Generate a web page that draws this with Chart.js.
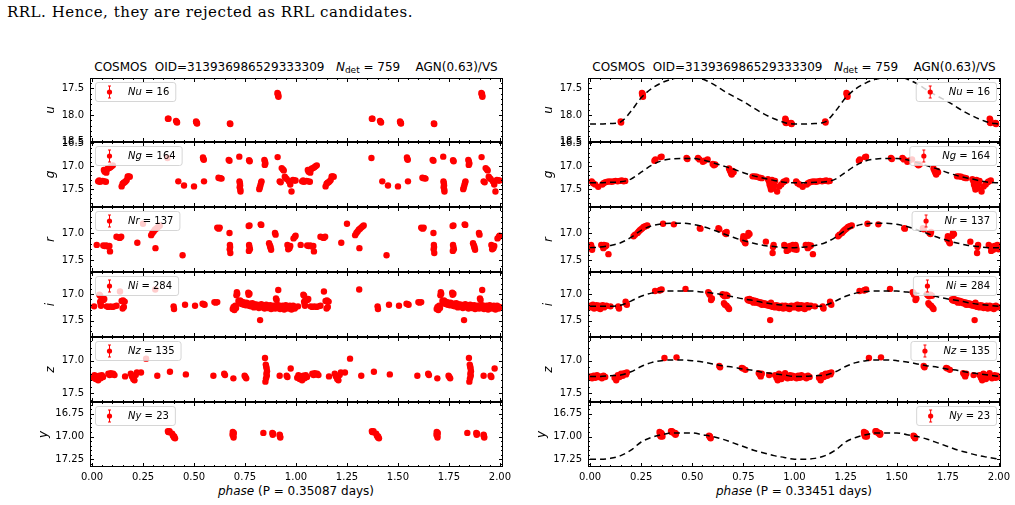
<!DOCTYPE html>
<html>
<head>
<meta charset="utf-8">
<script src="https://cdn.jsdelivr.net/npm/chart.js@4.4.0/dist/chart.umd.min.js"></script>
<style>
  body { margin: 0; background: #fff; width: 1015px; height: 505px; position: relative; overflow: hidden; font-family: "DejaVu Sans"; }
  canvas { position: absolute; }
  .txt { position: absolute; white-space: pre; color: #000; }
  .ttl { font-size: 12px; line-height: 14px; text-align: center; width: 500px; }
  #para { left: 7px; top: 2px; font-family: "DejaVu Serif"; font-size: 15px; line-height: 20px; }
</style>
</head>
<body>
<div class="txt" id="para">RRL. Hence, they are rejected as RRL candidates.</div>
<div class="txt ttl" style="left:46px;top:60px">COSMOS  OID=313936986529333309   <i>N</i><sub style="font-size:9px;vertical-align:-2px">det</sub> = 759    AGN(0.63)/VS</div>
<div class="txt ttl" style="left:544px;top:60px">COSMOS  OID=313936986529333309   <i>N</i><sub style="font-size:9px;vertical-align:-2px">det</sub> = 759    AGN(0.63)/VS</div>
<div class="txt ttl" style="left:46px;top:484px"><i>phase</i> (P = 0.35087 days)</div>
<div class="txt ttl" style="left:544px;top:484px"><i>phase</i> (P = 0.33451 days)</div>
<script>
const bands = ['u', 'g', 'r', 'i', 'z', 'y'];
const counts = [16, 164, 137, 284, 135, 23];
const magMin = [17.31, 16.47, 16.52, 16.58, 16.64, 16.62];
const magMax = [18.505, 17.89, 17.72, 17.81, 17.63, 17.335];
const yTicks = [[17.5, 18.0, 18.5], [16.5, 17.0, 17.5], [17.0, 17.5], [17.0, 17.5], [17.0, 17.5], [16.75, 17.0, 17.25]];
const xTicks = [0, 0.25, 0.5, 0.75, 1.0, 1.25, 1.5, 1.75, 2.0];

// template fit (right column), one cycle, repeated for phase 1-2
const fitPhase = [0, 0.05, 0.10, 0.15, 0.20, 0.25, 0.30, 0.35, 0.40, 0.45, 0.50, 0.55, 0.60, 0.65, 0.70, 0.75, 0.80, 0.85, 0.90, 0.95, 1.00];
const uFit = [18.17, 18.17, 18.16, 18.13, 17.93, 17.68, 17.51, 17.40, 17.33, 17.29, 17.28, 17.33, 17.42, 17.54, 17.65, 17.75, 17.87, 17.98, 18.07, 18.14, 18.17];
const gFit = [17.36, 17.36, 17.35, 17.34, 17.28, 17.13, 16.98, 16.88, 16.84, 16.83, 16.83, 16.86, 16.92, 16.99, 17.06, 17.14, 17.21, 17.26, 17.31, 17.35, 17.36];
const rFit = [17.27, 17.26, 17.23, 17.18, 17.08, 16.95, 16.87, 16.83, 16.82, 16.82, 16.84, 16.88, 16.94, 17.01, 17.08, 17.14, 17.19, 17.23, 17.25, 17.27, 17.27];
const iFit = [17.23, 17.23, 17.23, 17.21, 17.13, 17.04, 16.98, 16.95, 16.94, 16.94, 16.94, 16.96, 16.98, 17.01, 17.05, 17.09, 17.12, 17.16, 17.19, 17.21, 17.23];
const zFit = [17.24, 17.24, 17.23, 17.22, 17.17, 17.09, 17.03, 17.00, 16.99, 16.99, 17.00, 17.02, 17.05, 17.08, 17.10, 17.13, 17.15, 17.18, 17.20, 17.22, 17.24];
const yFit = [17.25, 17.25, 17.24, 17.21, 17.15, 17.06, 17.01, 16.98, 16.96, 16.96, 16.96, 16.98, 17.00, 17.03, 17.07, 17.11, 17.15, 17.18, 17.21, 17.23, 17.25];

// [phase, mag] for P = 0.35087 d
const uLeft = [[0.372,18.07],[0.375,18.07],[0.412,18.11],[0.415,18.13],[0.417,18.14],[0.510,18.12],[0.512,18.14],[0.514,18.15],[0.515,18.16],[0.676,18.16],[0.678,18.17],[0.909,17.59],[0.911,17.62],[0.913,17.64],[0.914,17.66],[0.912,17.61]];
const gLeft = [[0.030,17.33],[0.038,17.34],[0.045,17.33],[0.052,17.32],[0.060,17.33],[0.068,17.34],[0.035,17.31],
  [0.058,17.08],[0.062,17.12],[0.066,17.10],[0.072,17.07],[0.078,17.05],[0.084,17.04],[0.090,17.02],[0.096,17.00],[0.102,16.98],[0.070,17.14],
  [0.145,17.44],[0.150,17.38],[0.155,17.36],[0.160,17.35],[0.165,17.33],[0.170,17.30],[0.175,17.22],[0.180,17.22],[0.185,17.23],
  [0.370,16.82],[0.423,17.33],[0.451,17.42],[0.500,17.44],[0.544,16.81],[0.546,16.84],[0.548,16.86],[0.549,17.33],
  [0.620,17.25],[0.625,17.26],[0.630,17.26],[0.635,17.27],[0.670,16.86],[0.674,16.88],[0.722,16.79],
  [0.723,17.33],[0.725,17.37],[0.726,17.42],[0.724,17.46],[0.727,17.51],[0.728,17.55],[0.770,16.87],[0.773,16.89],
  [0.820,17.50],[0.823,17.46],[0.826,17.41],[0.829,17.36],[0.831,17.33],[0.845,16.86],[0.848,16.90],[0.850,16.94],[0.847,16.97],
  [0.910,16.80],[0.930,17.04],[0.936,17.07],[0.940,17.09],[0.920,17.33],[0.925,17.35],[0.945,17.23],[0.950,17.26],[0.955,17.28],
  [0.965,17.33],[0.972,17.40],[0.978,17.55],[0.985,17.30],[0.992,17.31],[0.998,17.31]];
const rLeft = [[0.023,17.22],[0.055,17.23],[0.062,17.24],[0.070,17.23],[0.078,17.25],[0.085,17.24],[0.088,17.34],
  [0.120,17.07],[0.128,17.08],[0.136,17.09],[0.143,17.07],[0.222,17.18],[0.250,16.83],
  [0.290,17.04],[0.296,17.00],[0.302,16.97],[0.308,16.94],[0.314,16.92],[0.320,16.90],[0.326,16.88],[0.332,16.86],[0.311,17.28],
  [0.444,17.41],[0.614,16.90],[0.618,16.91],[0.622,16.92],[0.626,16.90],
  [0.674,17.00],[0.676,17.22],[0.677,17.26],[0.675,17.30],[0.678,17.37],[0.768,16.87],[0.772,16.86],
  [0.770,17.22],[0.772,17.26],[0.774,17.30],[0.769,17.33],[0.827,16.84],[0.830,16.85],
  [0.868,17.19],[0.872,17.23],[0.875,17.27],[0.878,17.31],[0.874,17.25],[0.897,17.00],[0.900,17.03],
  [0.958,17.22],[0.964,17.25],[0.968,17.28],[0.962,17.30],[0.972,17.24],[0.988,17.10],[0.995,17.07],[0.998,17.05]];
const iLeft = [[0.010,17.23],[0.036,17.01],[0.040,17.03],[0.040,17.14],[0.042,17.18],[0.044,17.22],[0.046,17.12],[0.056,17.11],[0.060,17.09],
  [0.072,17.23],[0.080,17.24],[0.090,17.23],[0.100,17.24],[0.110,17.23],[0.120,17.22],[0.137,16.95],
  [0.145,17.13],[0.152,17.12],[0.160,17.14],[0.150,17.27],[0.156,17.24],[0.310,16.91],[0.400,17.23],[0.402,17.28],
  [0.456,17.20],[0.505,17.22],[0.542,17.18],[0.548,17.19],[0.552,17.20],[0.600,17.15],[0.606,17.16],[0.614,17.15],
  [0.690,17.28],[0.694,17.24],[0.698,17.30],[0.702,17.22],[0.706,17.26],[0.710,16.96],[0.712,16.99],[0.708,17.02],
  [0.718,17.13],[0.722,17.16],[0.726,17.12],[0.730,17.18],[0.734,17.14],[0.738,17.19],[0.742,17.15],[0.746,17.20],[0.750,17.17],
  [0.754,17.21],[0.758,17.16],[0.762,17.19],[0.766,16.97],[0.768,17.01],[0.772,16.99],[0.770,17.22],[0.774,17.18],[0.778,17.23],
  [0.782,17.20],[0.786,17.17],[0.790,17.22],[0.794,17.25],[0.798,17.19],[0.802,17.21],[0.806,17.24],[0.810,17.20],[0.814,17.23],
  [0.818,17.26],[0.822,17.21],[0.824,17.49],[0.826,17.24],[0.830,17.19],[0.834,17.22],[0.838,17.25],[0.842,17.21],[0.846,17.27],
  [0.850,17.23],[0.854,17.20],[0.858,17.24],[0.862,17.26],[0.866,17.22],[0.870,17.25],[0.874,17.21],[0.878,17.28],[0.882,17.23],
  [0.886,17.26],[0.890,17.22],[0.894,17.24],[0.898,17.27],[0.902,17.08],[0.905,17.11],[0.906,17.23],[0.910,17.26],[0.913,16.92],
  [0.914,17.21],[0.918,17.25],[0.922,17.28],[0.926,17.23],[0.930,17.26],[0.934,17.22],[0.938,17.25],[0.942,17.29],[0.946,17.24],
  [0.950,17.21],[0.954,17.26],[0.958,17.23],[0.962,17.27],[0.966,17.24],[0.970,17.22],[0.974,17.26],[0.978,17.29],[0.982,17.24],
  [0.986,17.22],[0.990,17.25],[0.994,17.27],[0.998,17.24]];
const zLeft = [[0.006,17.26],[0.012,17.22],[0.018,17.28],[0.024,17.24],[0.030,17.30],[0.036,17.23],[0.042,17.27],[0.048,17.22],[0.054,17.25],
  [0.080,17.20],[0.086,17.22],[0.092,17.19],[0.098,17.21],[0.104,17.20],[0.110,17.22],[0.162,17.24],
  [0.190,17.20],[0.196,17.24],[0.202,17.28],[0.208,17.30],[0.214,17.22],[0.220,17.18],[0.205,17.26],[0.240,17.18],[0.265,16.97],
  [0.320,17.23],[0.382,17.17],[0.460,17.21],[0.595,17.23],[0.648,17.20],[0.652,17.22],[0.693,17.27],
  [0.748,17.23],[0.752,17.25],[0.756,17.27],[0.848,16.96],[0.852,17.06],[0.854,17.09],[0.856,17.12],[0.858,17.16],
  [0.855,17.20],[0.857,17.23],[0.853,17.27],[0.850,17.32],[0.920,17.23],[0.954,17.23],[0.958,17.25],[0.974,17.12]];
const yLeft = [[0.372,16.94],[0.376,16.95],[0.380,16.94],[0.393,16.97],[0.397,16.99],[0.403,17.00],[0.407,17.02],[0.690,16.95],
  [0.692,16.97],[0.693,16.99],[0.694,17.01],[0.695,16.96],[0.840,16.96],[0.884,16.96],[0.886,16.98],[0.888,16.97],
  [0.920,16.98],[0.922,17.00],[0.923,17.01],[0.921,16.99],[0.402,17.01],[0.374,16.95],[0.689,16.98]];

// [phase, mag] for P = 0.33451 d
const uRight = [[0.150,18.12],[0.152,18.14],[0.254,17.59],[0.256,17.62],[0.258,17.64],[0.259,17.66],[0.257,17.61],[0.955,18.07],
  [0.957,18.09],[0.958,18.12],[0.956,18.14],[0.959,18.15],[0.983,18.15],[0.985,18.16],[0.986,18.17],[0.984,18.16]];
const gRight = [[0.008,17.33],[0.015,17.37],[0.025,17.40],[0.040,17.45],[0.060,17.40],[0.066,17.37],[0.075,17.35],[0.085,17.34],
  [0.095,17.33],[0.105,17.34],[0.115,17.33],[0.125,17.32],[0.135,17.33],[0.145,17.32],[0.155,17.31],[0.165,17.33],[0.172,17.32],
  [0.315,16.88],[0.320,16.85],[0.345,16.80],[0.350,16.79],[0.472,16.82],[0.476,16.84],[0.528,16.82],[0.535,16.85],[0.552,16.90],
  [0.560,16.88],[0.575,16.85],[0.600,16.95],[0.606,16.98],[0.612,16.96],[0.680,17.05],[0.684,17.09],[0.688,17.12],[0.690,17.15],
  [0.693,17.18],[0.698,17.10],[0.702,17.13],[0.795,17.22],[0.805,17.22],[0.815,17.23],[0.830,17.25],[0.840,17.26],
  [0.870,17.28],[0.875,17.33],[0.878,17.40],[0.882,17.45],[0.885,17.51],[0.888,17.36],[0.890,17.30],[0.893,17.42],[0.897,17.48],
  [0.900,17.38],[0.905,17.32],[0.915,17.55],[0.925,17.44],[0.935,17.40],[0.945,17.35],[0.950,17.33],[0.960,17.31]];
const rRight = [[0.005,17.22],[0.008,17.27],[0.010,17.31],[0.006,17.25],[0.055,17.22],[0.062,17.24],[0.068,17.22],[0.074,17.25],
  [0.080,17.23],[0.065,17.28],[0.090,17.39],[0.213,17.06],[0.220,17.03],[0.232,17.00],[0.238,16.97],[0.244,16.95],[0.250,16.93],
  [0.256,16.91],[0.262,16.89],[0.268,16.88],[0.275,16.87],[0.280,16.86],[0.357,16.83],[0.410,16.84],[0.537,16.91],[0.540,16.92],
  [0.628,16.91],[0.632,16.93],[0.660,17.00],[0.665,17.02],[0.668,16.98],[0.750,17.06],[0.752,17.10],[0.755,17.14],[0.757,17.17],
  [0.760,17.19],[0.748,17.12],[0.775,17.00],[0.780,17.02],[0.772,17.05],[0.860,17.16],[0.898,17.22],[0.893,17.37],[0.895,17.26],
  [0.950,17.22],[0.958,17.25],[0.965,17.28],[0.972,17.31],[0.978,17.24],[0.985,17.27],[0.992,17.22],[0.998,17.30],[0.962,17.33],[0.975,17.27]];
const iRight = [[0.002,17.22],[0.008,17.25],[0.014,17.20],[0.020,17.27],[0.026,17.23],[0.032,17.21],[0.038,17.26],[0.044,17.22],
  [0.050,17.28],[0.056,17.24],[0.062,17.21],[0.068,17.25],[0.074,17.23],[0.080,17.22],[0.100,17.23],[0.138,17.23],[0.142,17.27],
  [0.140,17.25],[0.174,17.14],[0.177,17.18],[0.180,17.20],[0.318,16.94],[0.340,16.93],[0.344,16.92],[0.350,16.91],[0.467,16.90],
  [0.578,16.96],[0.582,16.98],[0.585,17.01],[0.592,17.11],[0.596,17.08],[0.648,17.00],[0.652,17.02],[0.658,17.04],[0.665,17.01],
  [0.672,17.03],[0.655,17.17],[0.660,17.20],[0.668,17.22],[0.675,17.25],[0.680,17.28],
  [0.770,17.10],[0.775,17.12],[0.780,17.09],[0.785,17.13],[0.790,17.11],[0.795,17.14],[0.800,17.12],[0.805,17.15],[0.810,17.13],
  [0.815,17.16],[0.820,17.14],[0.825,17.17],[0.830,17.15],[0.835,17.18],[0.840,17.16],[0.845,17.19],[0.850,17.17],[0.855,17.20],
  [0.860,17.18],[0.865,17.21],[0.870,17.19],[0.875,17.22],[0.880,17.20],[0.881,17.49],[0.885,17.23],[0.890,17.21],[0.895,17.24],
  [0.900,17.22],[0.905,17.25],[0.910,17.21],[0.915,17.24],[0.920,17.22],[0.925,17.26],[0.930,17.23],[0.935,17.25],[0.940,17.22],
  [0.945,17.27],[0.950,17.24],[0.955,17.22],[0.960,17.26],[0.965,17.23],[0.970,17.25],[0.975,17.28],[0.980,17.23],[0.985,17.22],
  [0.990,17.25],[0.995,17.24],[0.885,17.16],[0.840,17.20],[0.800,17.16]];
const zRight = [[0.002,17.24],[0.010,17.27],[0.018,17.23],[0.026,17.26],[0.034,17.22],[0.042,17.25],[0.050,17.24],[0.058,17.27],
  [0.066,17.23],[0.074,17.25],[0.120,17.26],[0.128,17.30],[0.136,17.22],[0.144,17.25],[0.152,17.20],[0.160,17.23],[0.168,17.19],
  [0.176,17.21],[0.180,17.18],[0.364,16.96],[0.423,16.95],[0.632,17.08],[0.636,17.10],[0.742,17.11],[0.748,17.12],[0.760,17.14],
  [0.825,17.19],[0.830,17.21],[0.835,17.24],[0.840,17.20],[0.876,17.22],[0.905,17.22],[0.912,17.26],[0.918,17.30],[0.924,17.20],
  [0.930,17.24],[0.936,17.28],[0.942,17.22],[0.948,17.25],[0.954,17.19],[0.960,17.23],[0.966,17.27],[0.972,17.24],[0.978,17.22],
  [0.984,17.26],[0.990,17.23],[0.996,17.25]];
const yRight = [[0.340,16.95],[0.342,16.97],[0.344,16.99],[0.346,17.00],[0.348,16.96],[0.352,16.98],[0.354,17.00],[0.396,16.94],
  [0.400,16.94],[0.404,16.95],[0.410,16.96],[0.414,16.97],[0.418,16.98],[0.420,16.97],[0.582,16.99],[0.585,17.00],[0.588,17.01],
  [0.590,17.02],[0.343,16.98],[0.398,16.95],[0.416,16.96],[0.586,17.00],[0.350,16.97]];

const leftData = [uLeft, gLeft, rLeft, iLeft, zLeft, yLeft];
const rightData = [uRight, gRight, rRight, iRight, zRight, yRight];
const fits = [uFit, gFit, rFit, iFit, zFit, yFit];

Chart.defaults.font.family = 'DejaVu Sans';
Chart.defaults.color = '#000';

const panelTops = [78, 142, 207, 272, 337, 402, 467];
const colX = [[90, 503], [588, 1001]];
const xRange = [[-0.01, 2.015], [-0.01, 2.01]];

// stretch the serif line to the width it has in the reference
(function () {
    const el = document.getElementById('para');
    const w = el.getBoundingClientRect().width;
    el.style.letterSpacing = ((406 - w) / el.textContent.length) + 'px';
})();

function twoCycles(arr) {
    return arr.flatMap(([p, m]) => [{ x: p, y: m }, { x: p + 1, y: m }]);
}

function fitPoints(fit) {
    const first = fitPhase.map((p, i) => ({ x: p, y: fit[i] }));
    const second = fitPhase.slice(1).map((p, i) => ({ x: p + 1, y: fit[i + 1] }));
    return first.concat(second);
}

function drawTicks(ctx, scale, vals, a, len, vertical) {
    vals.forEach(v => {
        const p = Math.round(scale.getPixelForValue(v)) + 0.5;
        ctx.beginPath();
        if (vertical) {
            ctx.moveTo(a.left, p); ctx.lineTo(a.left + len, p);
            ctx.moveTo(a.right, p); ctx.lineTo(a.right - len, p);
        } else {
            ctx.moveTo(p, a.bottom); ctx.lineTo(p, a.bottom - len);
            ctx.moveTo(p, a.top); ctx.lineTo(p, a.top + len);
        }
        ctx.stroke();
    });
}

function minorVals(min, max, step) {
    const lo = Math.min(min, max), hi = Math.max(min, max);
    const out = [];
    for (let k = Math.ceil(lo / step - 1e-6); k <= Math.floor(hi / step + 1e-6); k++) out.push(k * step);
    return out;
}

function noMargins(s) {
    s.paddingTop = 0; s.paddingBottom = 0; s.paddingLeft = 0; s.paddingRight = 0;
}

const framePlugin = {
    id: 'frame',
    afterDraw(chart, args, opts) {
        const { ctx, chartArea: a, scales: { x, y } } = chart;
        ctx.save();

        // legend
        ctx.font = 'italic 10px "DejaVu Sans"';
        const nameW = ctx.measureText(opts.name).width;
        ctx.font = '10px "DejaVu Sans"';
        const restW = ctx.measureText(' = ' + opts.count).width;
        const w = 33 + nameW + restW + 6;
        const bx = opts.right ? a.right - 5 - w : a.left + 5;
        const by = a.top + 4, bh = 19;
        ctx.beginPath();
        ctx.roundRect(bx + 0.5, by + 0.5, w, bh, 2.5);
        ctx.fillStyle = 'rgba(255,255,255,0.8)';
        ctx.fill();
        ctx.strokeStyle = 'rgba(204,204,204,0.8)';
        ctx.lineWidth = 1;
        ctx.stroke();
        const mx = bx + 14.5, my = by + bh / 2 + 0.5;
        ctx.strokeStyle = '#ff0000';
        ctx.beginPath();
        ctx.moveTo(mx, my - 6); ctx.lineTo(mx, my + 6);
        ctx.moveTo(mx - 1.5, my - 6); ctx.lineTo(mx + 1.5, my - 6);
        ctx.moveTo(mx - 1.5, my + 6); ctx.lineTo(mx + 1.5, my + 6);
        ctx.stroke();
        ctx.fillStyle = '#ff0000';
        ctx.beginPath();
        ctx.arc(mx, my, 2.6, 0, Math.PI * 2);
        ctx.fill();
        ctx.fillStyle = '#000';
        ctx.textBaseline = 'middle';
        ctx.font = 'italic 10px "DejaVu Sans"';
        ctx.fillText(opts.name, bx + 33, my);
        ctx.font = '10px "DejaVu Sans"';
        ctx.fillText(' = ' + opts.count, bx + 33 + nameW, my);

        // frame and inward ticks
        ctx.strokeStyle = '#000';
        ctx.lineWidth = 1;
        ctx.strokeRect(a.left + 0.5, a.top + 0.5, a.width - 1, a.height - 1);
        drawTicks(ctx, x, xTicks, a, 4, false);
        drawTicks(ctx, x, minorVals(x.min, x.max, 0.05), a, 2, false);
        drawTicks(ctx, y, opts.yt, a, 4, true);
        drawTicks(ctx, y, minorVals(y.min, y.max, opts.minor), a, 2, true);
        ctx.restore();
    }
};

function makePanel(col, row) {
    const [left, right] = colX[col];
    const top = panelTops[row], bottom = panelTops[row + 1];
    const last = row === 5;
    const cv = document.createElement('canvas');
    const W = right - left + 60, H = bottom - top + 20 + (last ? 20 : 0);
    cv.width = W; cv.height = H;
    cv.style.left = (left - 50) + 'px';
    cv.style.top = (top - 10) + 'px';
    cv.style.width = W + 'px'; cv.style.height = H + 'px';
    document.body.appendChild(cv);

    const pts = (col === 0 ? leftData : rightData)[row];
    const datasets = [{
        type: 'scatter',
        data: twoCycles(pts),
        backgroundColor: '#ff0000',
        borderWidth: 0,
        pointRadius: 3.2,
        clip: 0,
        order: 1
    }];
    if (col === 1) {
        datasets.push({
            type: 'line',
            data: fitPoints(fits[row]),
            borderColor: '#000',
            borderWidth: 1.5,
            borderDash: [6, 4],
            pointRadius: 0,
            fill: false,
            cubicInterpolationMode: 'monotone',
            clip: 0,
            order: 0
        });
    }

    const yt = yTicks[row];
    new Chart(cv.getContext('2d'), {
        type: 'scatter',
        data: { datasets: datasets },
        options: {
            responsive: false,
            animation: false,
            events: [],
            layout: { padding: { top: 10, right: 10, bottom: last ? 0 : 10, left: 0 } },
            plugins: {
                legend: { display: false },
                tooltip: { enabled: false },
                frame: { name: 'N' + bands[row], count: counts[row], right: col === 1, yt: yt, minor: last ? 0.05 : 0.1 }
            },
            scales: {
                x: {
                    type: 'linear',
                    min: xRange[col][0],
                    max: xRange[col][1],
                    display: last,
                    afterBuildTicks: s => { s.ticks = xTicks.map(v => ({ value: v })); },
                    afterFit: s => { s.height = last ? 30 : 0; noMargins(s); },
                    grid: { display: false, drawTicks: false },
                    border: { display: false },
                    ticks: { padding: 4, font: { size: 10 }, maxRotation: 0, autoSkip: false, callback: v => v.toFixed(2) }
                },
                y: {
                    type: 'linear',
                    reverse: true,
                    min: magMin[row],
                    max: magMax[row],
                    afterBuildTicks: s => { s.ticks = yt.map(v => ({ value: v })); },
                    afterFit: s => { s.width = 50; noMargins(s); },
                    grid: { display: false, drawTicks: false },
                    border: { display: false },
                    title: { display: true, text: bands[row], font: { size: 12, style: 'italic' }, padding: { top: last ? -3 : 4, bottom: 0 } },
                    ticks: { padding: 6, font: { size: 10 }, autoSkip: false, callback: v => last ? v.toFixed(2) : v.toFixed(1) }
                }
            }
        },
        plugins: [framePlugin]
    });
}

for (let col = 0; col < 2; col++) {
    for (let row = 0; row < 6; row++) makePanel(col, row);
}
</script>
</body>
</html>
